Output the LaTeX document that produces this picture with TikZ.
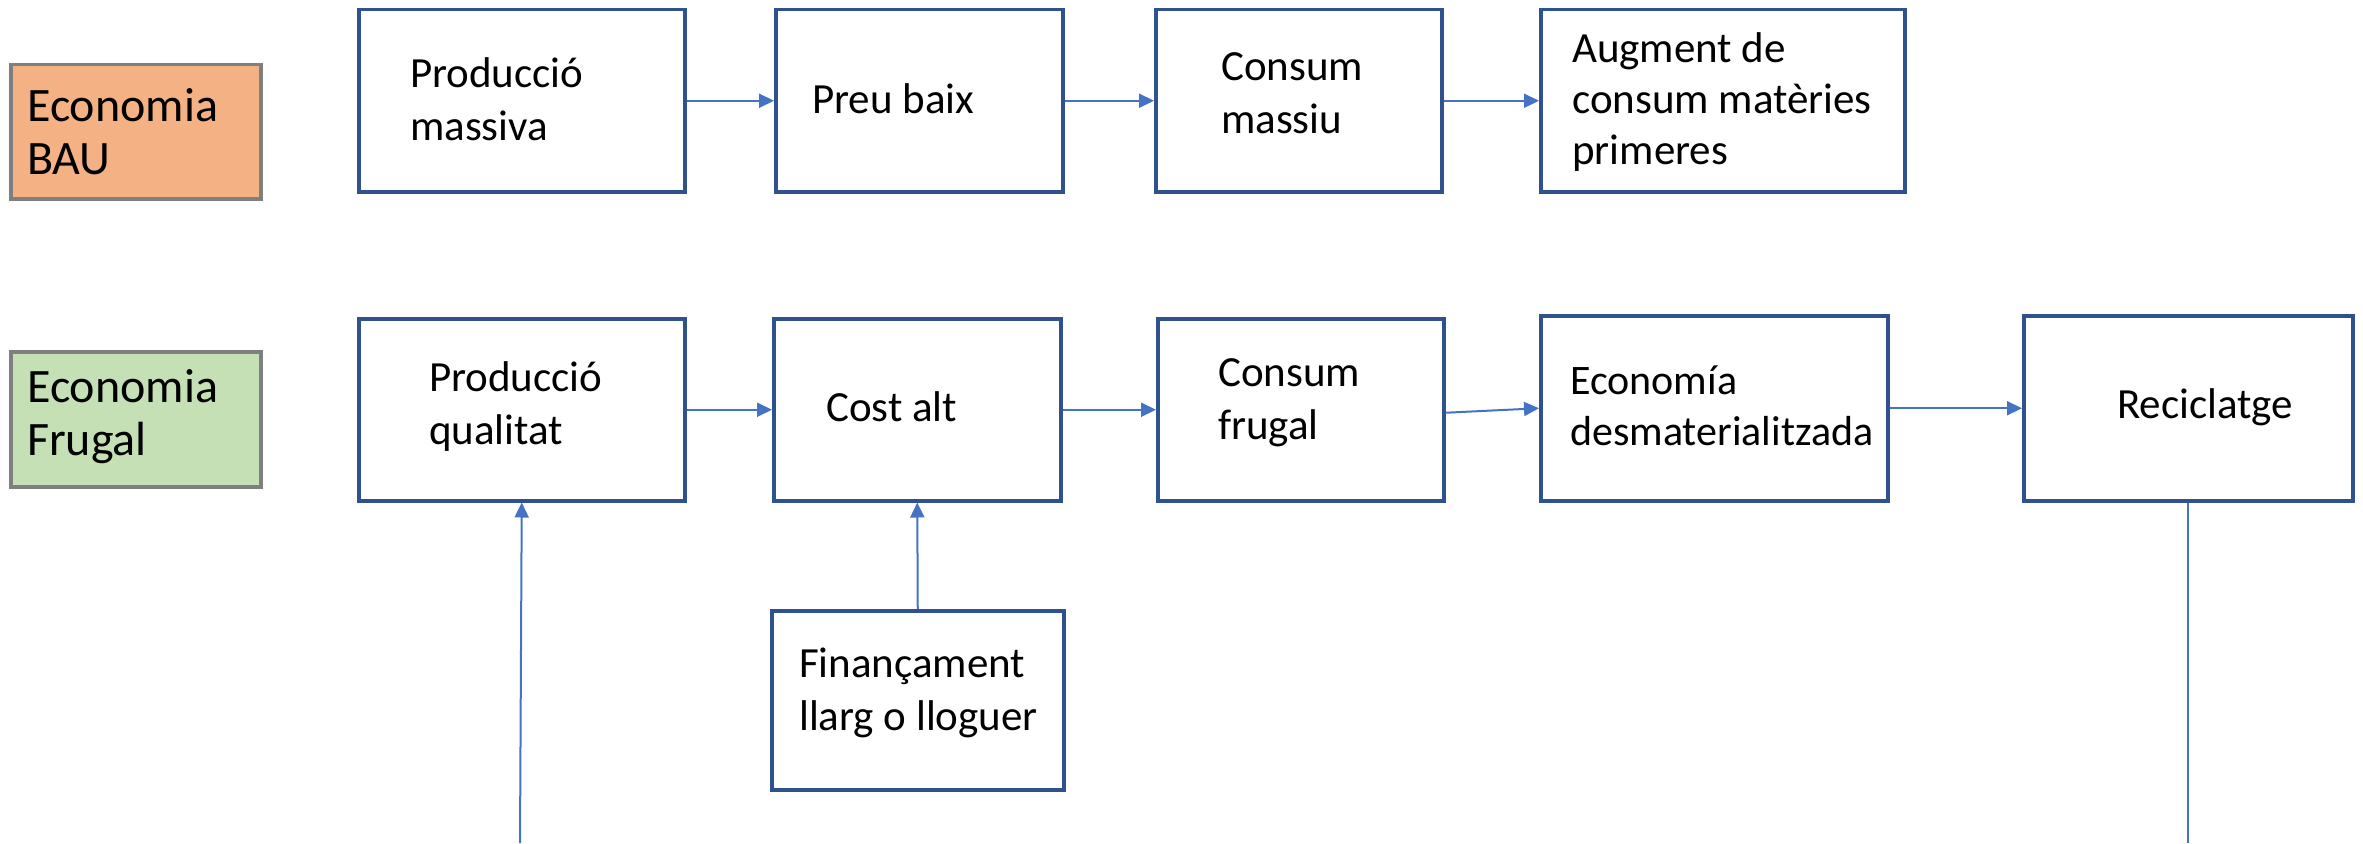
\documentclass[tikz,border=0pt]{standalone}
\usepackage{fontspec}
\setmainfont{Carlito}
\usetikzlibrary{arrows.meta,calc}
\definecolor{boxblue}{HTML}{2F528F}
\definecolor{arrblue}{HTML}{4472C4}
\definecolor{labgray}{HTML}{7F7F7F}
\definecolor{bauorange}{HTML}{F4B183}
\definecolor{frugalgreen}{HTML}{C5E0B4}
\tikzset{
  box/.style={draw=boxblue,line width=3.5pt,fill=white,inner sep=0pt,anchor=north west},
  labbox/.style={draw=labgray,line width=3.5pt,inner sep=0pt,anchor=north west},
  txt/.style={anchor=west,align=left,inner sep=0pt,font=\fontsize{43}{53}\selectfont},
  labtxt/.style={anchor=west,align=left,inner sep=0pt,font=\fontsize{48}{53}\selectfont},
  arr/.style={draw=arrblue,line width=2pt,-{Triangle[length=15pt,width=14pt]}},
  plainline/.style={draw=arrblue,line width=2pt}
}
\begin{document}
\begin{tikzpicture}[x=1pt,y=-1pt]
\useasboundingbox (0,0) rectangle (2363,843);
% labels
\node[labbox,fill=bauorange,minimum width=250pt,minimum height=134pt] (lbau) at (9,63) {};
\node[labtxt] (tbau) at (27,132) {Economia\\BAU};
\node[labbox,fill=frugalgreen,minimum width=250pt,minimum height=135pt] (lfru) at (9,350) {};
\node[labtxt] (tfru) at (27,417) {Economia\\Frugal};
% top row
\node[box,minimum width=326pt,minimum height=182pt] (a1) at (357,8) {};
\node[box,minimum width=287pt,minimum height=182pt] (a2) at (774,8) {};
\node[box,minimum width=286pt,minimum height=182pt] (a3) at (1154,8) {};
\node[box,minimum width=364pt,minimum height=182pt] (a4) at (1539,8) {};
\node[txt] (ta1) at (410,99) {Producció\\massiva};
\node[txt] (ta2) at (812,99) {Preu baix};
\node[txt] (ta3) at (1221,93) {Consum\\massiu};
\node[txt,font=\fontsize{43}{51}\selectfont] (ta4) at (1572,102) {Augment de\\consum matèries\\primeres};
% bottom row
\node[box,minimum width=326pt,minimum height=182pt] (c1) at (357,317) {};
\node[box,minimum width=287pt,minimum height=182pt] (c2) at (772,317) {};
\node[box,minimum width=286pt,minimum height=182pt] (c3) at (1156,317) {};
\node[box,minimum width=347pt,minimum height=185pt] (c4) at (1539,314) {};
\node[box,minimum width=329pt,minimum height=185pt] (c5) at (2022,314) {};
\node[box,minimum width=292pt,minimum height=179pt] (fin) at (770,609) {};
\node[txt] (tc1) at (429,407) {Producció\\qualitat};
\node[txt] (tc2) at (826,407) {Cost alt};
\node[txt] (tc3) at (1218,403) {Consum\\frugal};
\node[txt,font=\fontsize{42}{51}\selectfont] (tc4) at (1570,406) {Economía\\desmaterialitzada};
\node[txt] (tc5) at (2117,407) {Reciclatge};
\node[txt] (tfin) at (799,693) {Finançament\\llarg o lloguer};
% connectors
\draw[arr] (a1.east) -- (a2.west);
\draw[arr] (a2.east) -- (a3.west);
\draw[arr] (a3.east) -- (a4.west);
\draw[arr] (c1.east) -- (c2.west);
\draw[arr] (c2.east) -- (c3.west);
\draw[arr] ([yshift=-3pt]c3.east) -- (c4.west);
\draw[arr] (c4.east) -- (c5.west);
\draw[arr] (fin.north) -- (c2.south);
\coordinate (src) at (520,843);
\draw[arr] (src) -- (c1.south);
\coordinate (dst) at (c5.south |- src);
\draw[plainline] (c5.south) -- (dst);
\end{tikzpicture}
\end{document}
